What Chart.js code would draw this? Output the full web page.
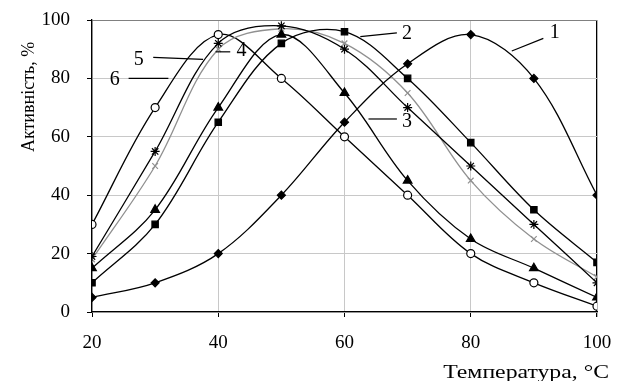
<!DOCTYPE html>
<html>
<head>
<meta charset="utf-8">
<script src="https://cdn.jsdelivr.net/npm/chart.js@4"></script>
<style>
html, body { margin: 0; padding: 0; background: #fff; }
#wrap { width: 617px; height: 381px; }
</style>
</head>
<body>
<div id="wrap"><canvas id="chart"></canvas></div>
<script>
// температура, °C
let temperatura = [20, 30, 40, 50, 60, 70, 80, 90, 100];

// активність, % (криві 1-6)
let kryva1 = [5, 10, 20, 40, 65, 85, 95, 80, 40];
let kryva2 = [10, 30, 65, 92, 96, 80, 58, 35, 17];
let kryva3 = [15, 35, 70, 95, 75, 45, 25, 15, 5];
let kryva4 = [19, 55, 92, 98, 90, 70, 50, 30, 10];
let kryva5 = [18, 50, 90, 97, 92, 75, 45, 25, 12];
let kryva6 = [30, 70, 95, 80, 60, 40, 20, 10, 2];

let xTicks = [20, 40, 60, 80, 100];
let yTicks = [0, 20, 40, 60, 80, 100];

// підписи кривих (в координатах даних)
let pidpysy = [
    { t: '1', tx: 93.3, ty: 95.5, l: [86.5, 89.4, 91.5, 93.7] },
    { t: '2', tx: 69.9, ty: 95.4, l: [62.5, 94.3, 68.3, 95.6] },
    { t: '3', tx: 69.9, ty: 65.1, l: [63.8, 66.1, 68.3, 66.1] },
    { t: '4', tx: 43.7, ty: 89.4, l: [39.6, 89.1, 41.9, 89.1] },
    { t: '5', tx: 27.4, ty: 86.3, l: [29.7, 87.2, 37.6, 86.5] },
    { t: '6', tx: 23.6, ty: 79.4, l: [25.8, 80.0, 32.1, 80.0] }
];

const serif = '"Liberation Serif", "Times New Roman", serif';

function punkty(arr) {
    return arr.map((v, i) => ({ x: temperatura[i], y: v }));
}

function seriya(arr, style, radius, color, fill) {
    return {
        data: punkty(arr),
        borderColor: color,
        borderWidth: 1.3,
        pointStyle: style,
        pointRadius: radius,
        pointBackgroundColor: fill,
        pointBorderColor: color,
        pointBorderWidth: 1.2,
        tension: 0.35,
        fill: false
    };
}

let datos = {
    datasets: [
        seriya(kryva1, 'rectRot', 4, '#000', '#000'),
        seriya(kryva2, 'rect', 4.5, '#000', '#000'),
        seriya(kryva3, 'triangle', 5, '#000', '#000'),
        seriya(kryva4, 'star', 4.5, '#000', '#000'),
        seriya(kryva5, 'crossRot', 4, '#909090', '#909090'),
        seriya(kryva6, 'circle', 4, '#000', '#fff')
    ]
};

let pidpysyPlugin = {
    id: 'pidpysy',
    afterDatasetsDraw(chart) {
        const c = chart.ctx, x = chart.scales.x, y = chart.scales.y;
        c.save();
        c.strokeStyle = '#000';
        c.lineWidth = 1.2;
        c.fillStyle = '#000';
        c.font = '20px ' + serif;
        c.textAlign = 'center';
        c.textBaseline = 'middle';
        pidpysy.forEach(p => {
            c.beginPath();
            c.moveTo(x.getPixelForValue(p.l[0]), y.getPixelForValue(p.l[1]));
            c.lineTo(x.getPixelForValue(p.l[2]), y.getPixelForValue(p.l[3]));
            c.stroke();
            c.fillText(p.t, x.getPixelForValue(p.tx), y.getPixelForValue(p.ty));
        });
        // назви осей
        c.save();
        c.font = '19px ' + serif;
        c.textAlign = 'right';
        c.textBaseline = 'alphabetic';
        c.translate(609, 378);
        c.scale(1.25, 1);
        c.fillText('Температура, °C', 0, 0);
        c.restore();
        c.font = '18px ' + serif;
        c.translate(34, 152);
        c.rotate(-Math.PI / 2);
        c.textAlign = 'left';
        c.textBaseline = 'alphabetic';
        c.fillText('Активність, %', 0, 0);
        c.restore();
    }
};

let opciones = {
    responsive: true,
    maintainAspectRatio: false,
    animation: false,
    layout: { padding: { top: 20, right: 20, bottom: 0, left: 0 } },
    plugins: { legend: { display: false }, tooltip: { enabled: false } },
    scales: {
        x: {
            type: 'linear',
            min: 20,
            max: 100,
            afterFit: s => { s.height = 69; s.paddingLeft = 0; s.paddingRight = 0; },
            afterBuildTicks: s => { s.ticks = xTicks.map(v => ({ value: v })); },
            grid: {
                color: c => (c.tick.value === 100 ? '#000' : '#c8c8c8'),
                lineWidth: c => (c.tick.value === 100 ? 1.3 : 1),
                tickColor: '#000',
                tickLength: 5
            },
            border: { color: '#000', width: 1.3 },
            ticks: { color: '#000', font: { family: serif, size: 19 }, padding: 15 }
        },
        y: {
            min: 0,
            max: 100,
            afterFit: s => { s.width = 92; s.paddingTop = 0; s.paddingBottom = 0; },
            afterBuildTicks: s => { s.ticks = yTicks.map(v => ({ value: v })); },
            grid: {
                color: c => (c.tick.value === 100 ? '#808080' : '#c8c8c8'),
                tickColor: '#000',
                tickLength: 5
            },
            border: { color: '#000', width: 1.3 },
            ticks: { color: '#000', font: { family: serif, size: 19 }, padding: 17 }
        }
    }
};

let ctx = document.getElementById('chart');

let miGrafica = new Chart(ctx, {
    type: 'line',
    data: datos,
    options: opciones,
    plugins: [pidpysyPlugin]
});
</script>
</body>
</html>
